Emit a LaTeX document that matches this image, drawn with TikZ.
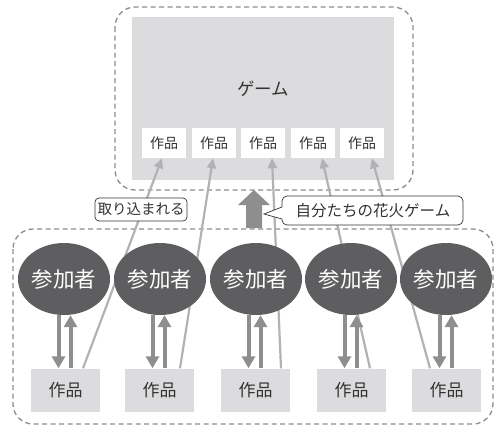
\documentclass[tikz,border=0pt]{standalone}
\usepackage{fontspec}
\newfontfamily\jp{Noto Sans CJK JP}
\usetikzlibrary{arrows.meta}
\definecolor{txt}{HTML}{333333}
\definecolor{boxgray}{HTML}{DCDCDE}
\definecolor{ellgray}{HTML}{5E5E60}
\definecolor{arrgray}{HTML}{8E8E90}
\definecolor{lightln}{HTML}{B2B2B4}
\definecolor{dashgray}{HTML}{8C8C8C}
\tikzset{
  every node/.style={font=\jp, text=txt, inner sep=0pt},
  dashframe/.style={draw=dashgray, line width=1.3pt, dash pattern=on 5pt off 3.5pt, rounded corners=20pt},
  gamebox/.style={fill=boxgray, minimum width=262pt, minimum height=163pt},
  smallwork/.style={fill=white, minimum width=44pt, minimum height=30pt, font=\jp\fontsize{14}{14}\selectfont},
  member/.style={ellipse, fill=ellgray, minimum width=92pt, minimum height=72pt, text=white, font=\jp\fontsize{21.5}{21.5}\selectfont},
  work/.style={fill=boxgray, minimum width=69pt, minimum height=43pt, font=\jp\fontsize{17}{17}\selectfont},
  thickarr/.style={draw=arrgray, line width=4pt, -{Triangle[length=12pt,width=13pt]}},
  lightarr/.style={draw=lightln, line width=2.2pt, -{Triangle[length=10pt,width=9pt]}},
  labelbox/.style={draw=txt, line width=0.7pt, fill=white, rounded corners=4pt, minimum width=92pt, minimum height=23pt, font=\jp\fontsize{14.5}{14.5}\selectfont},
}
\usetikzlibrary{shapes.geometric}
\begin{document}
\begin{tikzpicture}[x=1pt,y=-1pt]
\useasboundingbox (0,0) rectangle (495,426);
% frames
\draw[dashframe] (115,7) rectangle (413,190);
\draw[dashframe] (13,229) rectangle (493,424);
% game box
\node[gamebox] (game) at (263,98.5) {};
\node[font=\jp\fontsize{17.5}{17.5}\selectfont] (gtitle) at (263,89) {ゲーム};
\foreach \i/\x in {1/164,2/214,3/263,4/313,5/362}{
  \node[smallwork] (s\i) at (\x,143) {作品};
}
% bottom works
\foreach \i/\x in {1/65.5,2/159.5,3/255.5,4/351.5,5/446.5}{
  \node[work] (b\i) at (\x,390) {作品};
}
% light lines (behind members)
\draw[lightarr] ([xshift=17.5pt]b1.north) -- ([xshift=-2pt]s1.south);
\draw[lightarr] ([xshift=20.5pt]b2.north) -- ([xshift=-1pt]s2.south);
\draw[lightarr] ([xshift=25.5pt]b3.north) -- ([xshift=9pt]s3.south);
\draw[lightarr] ([xshift=18.5pt]b4.north) -- ([xshift=9pt]s4.south);
\draw[lightarr] ([xshift=-16.5pt]b5.north) -- ([xshift=10pt]s5.south);
% members
\foreach \i/\x in {1/64,2/160,3/256,4/351,5/446}{
  \node[member] (m\i) at (\x,279) {参加者};
}
\foreach \i in {1,...,5}{
  \draw[thickarr] ([xshift=-7pt]b\i.north |- m\i.south) -- ([xshift=-7pt]b\i.north);
  \draw[thickarr] ([xshift=5pt]b\i.north) -- ([xshift=5pt]b\i.north |- m\i.south);
}
% label
\node[labelbox] (take) at (141,209.5) {取り込まれる};
% big arrow
\fill[arrgray] (246,228) -- (246,205) -- (238,205) -- (254,190) -- (270,205) -- (262,205) -- (262,228) -- cycle;
% callout
\draw[draw=txt, line width=0.7pt, fill=white] (282,219) [rounded corners=5pt] -- (282,225) -- (463,225) -- (463,196) -- (282,196) [sharp corners] -- (282,207) -- (264,214) -- cycle;
\node[font=\jp\fontsize{15.5}{15.5}\selectfont] (own) at (373,210.5) {自分たちの花火ゲーム};
\end{tikzpicture}
\end{document}
